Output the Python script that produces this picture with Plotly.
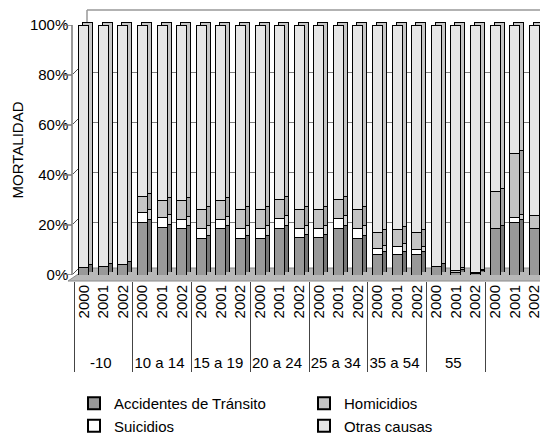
import plotly.graph_objects as go

# ── Data ───────────────────────────────────────────────────────────────────────
GROUPS = ["-10", "10 a 14", "15 a 19", "20 a 24", "25 a 34", "35 a 54", "55", " "]
YEARS = ["2000", "2001", "2002"]

accidentes = [3.0, 3.5, 4.4, 21.0, 19.0, 18.5, 14.8, 18.5, 14.8, 14.8, 18.5, 15.2,
              15.2, 18.5, 14.8, 8.4, 8.4, 8.4, 3.3, 1.0, 0.5, 18.5, 21.0, 18.8]
suicidios = [0, 0, 0, 4.0, 4.0, 3.9, 3.7, 3.9, 3.7, 3.7, 4.3, 3.3,
             3.3, 4.3, 3.7, 2.3, 2.9, 1.9, 0, 0, 0, 0, 2.0, 0]
homicidios = [0, 0, 0, 6.6, 7.0, 7.6, 7.9, 7.6, 7.9, 7.9, 7.6, 7.9,
              7.9, 7.6, 7.9, 6.5, 7.1, 6.9, 0, 0.8, 0.5, 15.1, 25.8, 5.2]
otras = [97.0, 96.5, 95.6, 68.4, 70.0, 70.0, 73.6, 70.0, 73.6, 73.6, 69.6, 73.6,
         73.6, 69.6, 73.6, 82.8, 81.6, 82.8, 96.7, 98.2, 99.0, 66.4, 51.2, 76.0]

# ── Style ──────────────────────────────────────────────────────────────────────
# page body has an 8px margin, so the figure is 8px smaller than the window
W, H = 540, 428
OFF = 8
FONT = "Arial, Liberation Sans, sans-serif"
GRID = "#808080"

SERIES = [
    # name, values, front colour, side colour, legend rank
    ("Accidentes de Tránsito", accidentes, "#999999", "#767676", 1),
    ("Suicidios", suicidios, "#ffffff", "#cfcfcf", 3),
    ("Homicidios", homicidios, "#c4c4c4", "#a3a3a3", 2),
    ("Otras causas", otras, "#e6e6e6", "#c6c6c6", 4),
]

PAD = "\u00a0" * 5  # pushes the outer (age) labels a bit further down
xcats = [[g for g in GROUPS for _ in YEARS], [PAD + y for _ in GROUPS for y in YEARS]]


def fx(px):
    return (px - OFF) / W


def fy(py):
    return 1 - (py - OFF) / H


fig = go.Figure()

# depth faces: same stacks drawn on a subplot shifted up/right
for name, vals, front, side, rank in SERIES:
    fig.add_trace(go.Bar(x=xcats, y=vals, name=name, showlegend=False,
                         marker=dict(color=side, line=dict(color="#000000", width=1)),
                         xaxis="x", yaxis="y", hoverinfo="skip"))

# front faces
for name, vals, front, side, rank in SERIES:
    fig.add_trace(go.Bar(x=xcats, y=vals, name=name, legendrank=rank,
                         marker=dict(color=front, line=dict(color="#000000", width=1)),
                         xaxis="x2", yaxis="y2"))

# ── Decoration: back wall, floor, ticks ────────────────────────────────────────
shapes = []
floor = [(68, 281), (541, 281), (549, 268), (87, 268)]
path = "M " + " L ".join(f"{fx(a):.4f},{fy(b):.4f}" for a, b in floor) + " Z"
shapes.append(dict(type="path", path=path, xref="paper", yref="paper",
                   fillcolor="#b8b8b8", line=dict(color="#8c8c8c", width=1), layer="below"))
shapes.append(dict(type="line", xref="paper", yref="paper", x0=fx(87), x1=fx(549),
                   y0=fy(10), y1=fy(10), line=dict(color="#999999", width=1.5)))
shapes.append(dict(type="line", xref="paper", yref="paper", x0=fx(87), x1=fx(87),
                   y0=fy(10), y1=fy(268), line=dict(color="#999999", width=1.5), layer="below"))
for v in [0, 20, 40, 60, 80, 100]:
    shapes.append(dict(type="line", xref="paper", yref="y2", xsizemode="pixel",
                       ysizemode="pixel", xanchor=fx(72), yanchor=v,
                       x0=-8, x1=0, y0=0, y1=0,
                       line=dict(color="#777777", width=1.5)))
    shapes.append(dict(type="line", xref="paper", yref="y2", xsizemode="pixel",
                       ysizemode="pixel", xanchor=fx(72), yanchor=v,
                       x0=0, x1=14, y0=0, y1=14,
                       line=dict(color="#555555", width=1), layer="below"))

fig.update_layout(
    width=W, height=H,
    barmode="stack", bargap=0.49,
    paper_bgcolor="#ffffff", plot_bgcolor="rgba(0,0,0,0)",
    font=dict(family=FONT, size=14, color="#000000"),
    margin=dict(l=0, r=0, t=0, b=0, autoexpand=False),
    shapes=shapes,
    xaxis=dict(domain=[fx(78), fx(548)], anchor="y", showticklabels=False,
               showgrid=False, showline=False, showdividers=False, ticks=""),
    yaxis=dict(domain=[fy(272), fy(22)], anchor="x", range=[0, 100],
               showticklabels=False, showgrid=True, gridcolor=GRID, gridwidth=1,
               zeroline=False, dtick=20, ticks=""),
    xaxis2=dict(domain=[fx(74), fx(544)], anchor="free", position=fy(281),
                tickangle=-90, tickfont=dict(size=15), showgrid=False,
                showline=False, ticks="", showdividers=True,
                dividercolor="#444444", dividerwidth=1, automargin=False),
    yaxis2=dict(domain=[fy(275), fy(25)], anchor="free", position=fx(72),
                range=[0, 100], dtick=20, ticksuffix="%", showgrid=False,
                zeroline=False, showline=True, linecolor="#999999", linewidth=1.5,
                ticks="", tickfont=dict(size=15), automargin=False,
                title=dict(text="MORTALIDAD", font=dict(size=15), standoff=2)),
    legend=dict(orientation="h", x=fx(74), xanchor="left", y=fy(387), yanchor="top",
                entrywidth=185, entrywidthmode="pixels", traceorder="normal",
                font=dict(size=15), itemsizing="constant",
                bgcolor="rgba(0,0,0,0)", tracegroupgap=0),
)

fig.write_html("out.html")
